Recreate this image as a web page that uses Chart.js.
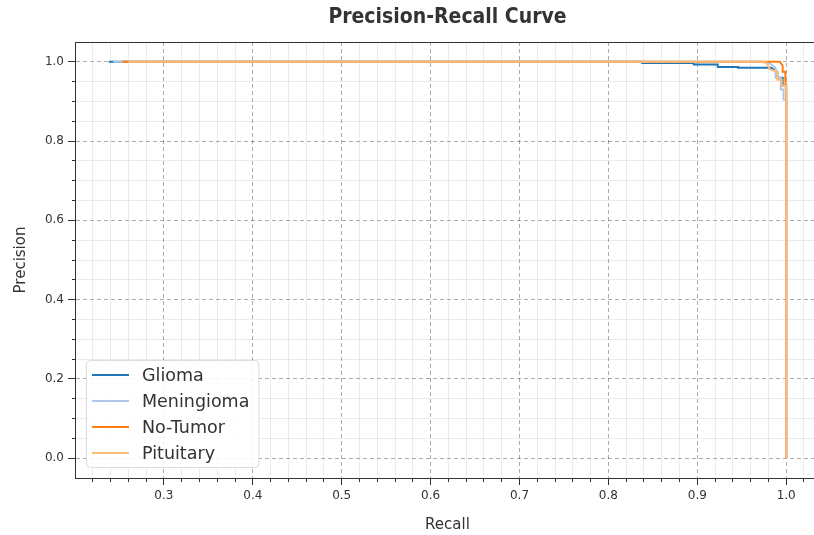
<!DOCTYPE html>
<html>
<head>
<meta charset="utf-8">
<script src="https://cdn.jsdelivr.net/npm/chart.js@4.4.1/dist/chart.umd.min.js"></script>
<style>
html,body{margin:0;padding:0;overflow:hidden;background:#fff;}
#wrap{width:821px;height:535px;}
</style>
</head>
<body>
<div id="wrap"><canvas id="c" width="821" height="535"></canvas></div>
<script>
// ---- data ----
const seriesNames = ['Glioma', 'Meningioma', 'No-Tumor', 'Pituitary'];
const seriesColors = ['#1f77b4', '#aec7e8', '#ff7f0e', '#ffbb78'];

const gliomaRecall    = [0.238, 0.838, 0.838, 0.896, 0.896, 0.923, 0.923, 0.946, 0.946, 0.983, 0.990, 0.990, 0.996, 0.996, 1.0, 1.0];
const gliomaPrecision = [1.0,   1.0,   0.997, 0.997, 0.993, 0.993, 0.987, 0.987, 0.985, 0.985, 0.975, 0.960, 0.960, 0.940, 0.940, 0.0];

const meningiomaRecall    = [0.243, 0.972, 0.982, 0.988, 0.988, 0.994, 0.994, 0.997, 0.997, 1.0, 1.0];
const meningiomaPrecision = [1.0,   1.0,   0.995, 0.985, 0.960, 0.960, 0.930, 0.930, 0.905, 0.905, 0.0];

const noTumorRecall    = [0.253, 0.993, 0.996, 0.996, 0.999, 0.999, 1.0, 1.0];
const noTumorPrecision = [1.0,   1.0,   0.990, 0.975, 0.975, 0.955, 0.920, 0.0];

const pituitaryRecall    = [0.260, 0.977, 0.982, 0.990, 0.990, 0.995, 0.995, 1.0, 1.0];
const pituitaryPrecision = [1.0,   1.0,   0.980, 0.975, 0.955, 0.955, 0.940, 0.940, 0.0];

// ---- tick labels ----
const xMajorTicks = [0.3, 0.4, 0.5, 0.6, 0.7, 0.8, 0.9, 1.0];
const yMajorTicks = [0.0, 0.2, 0.4, 0.6, 0.8, 1.0];
const xMinorTicks = [0.22, 0.24, 0.26, 0.28, 0.32, 0.34, 0.36, 0.38, 0.42, 0.44, 0.46, 0.48,
                     0.52, 0.54, 0.56, 0.58, 0.62, 0.64, 0.66, 0.68, 0.72, 0.74, 0.76, 0.78,
                     0.82, 0.84, 0.86, 0.88, 0.92, 0.94, 0.96, 0.98, 1.02];
const yMinorTicks = [0.05, 0.10, 0.15, 0.25, 0.30, 0.35, 0.45, 0.50, 0.55, 0.65, 0.70, 0.75, 0.85, 0.90, 0.95];
const xRange = [0.2, 1.038];
const yRange = [-0.05, 1.05];

const recallLists = [gliomaRecall, meningiomaRecall, noTumorRecall, pituitaryRecall];
const precisionLists = [gliomaPrecision, meningiomaPrecision, noTumorPrecision, pituitaryPrecision];

const isIn = (arr, v) => arr.some(t => Math.abs(t - v) < 1e-6);
const merged = (a, b) => a.concat(b).sort((p, q) => p - q);

const FONT = '"DejaVu Sans", sans-serif';
const TXT = '#333333';
const MAJOR_GRID = 'rgba(0,0,0,0.33)';
const MINOR_GRID = 'rgba(0,0,0,0.08)';

const datasets = seriesNames.map((name, i) => ({
  label: name,
  data: recallLists[i].map((r, k) => ({ x: r, y: precisionLists[i][k] })),
  borderColor: seriesColors[i],
  backgroundColor: seriesColors[i],
  borderWidth: 2,
  pointRadius: 0,
  showLine: true,
  fill: false,
  tension: 0,
  order: seriesNames.length - i
}));

const insetLegend = {
  id: 'insetLegend',
  afterDatasetsDraw(chart) {
    const { ctx, chartArea } = chart;
    const ds = chart.data.datasets;
    ctx.save();
    ctx.font = '17.5px ' + FONT;
    const maxW = Math.max(...ds.map(d => ctx.measureText(d.label).width));
    const rowH = 26, lineLen = 37;
    const boxW = 6 + lineLen + 13 + maxW + 9;
    const boxH = 15 + rowH * (ds.length - 1) + 14;
    const bx = chartArea.left + 11;
    const by = chartArea.bottom - 11 - boxH;
    ctx.beginPath();
    if (ctx.roundRect) ctx.roundRect(bx + 0.5, by + 0.5, boxW, boxH, 4); else ctx.rect(bx + 0.5, by + 0.5, boxW, boxH);
    ctx.fillStyle = 'rgba(255,255,255,0.88)';
    ctx.fill();
    ctx.strokeStyle = '#dcdcdc';
    ctx.lineWidth = 1;
    ctx.stroke();
    ds.forEach((d, i) => {
      const y = by + 15 + i * rowH;
      ctx.beginPath();
      ctx.strokeStyle = d.borderColor;
      ctx.lineWidth = 2;
      ctx.moveTo(bx + 6, y);
      ctx.lineTo(bx + 6 + lineLen, y);
      ctx.stroke();
      ctx.fillStyle = TXT;
      ctx.textBaseline = 'middle';
      ctx.textAlign = 'left';
      ctx.fillText(d.label, bx + 6 + lineLen + 13, y + 1);
    });
    ctx.restore();
  }
};

new Chart(document.getElementById('c'), {
  type: 'scatter',
  data: { datasets },
  plugins: [insetLegend],
  options: {
    responsive: false,
    animation: false,
    layout: { padding: { left: 0, right: 1, top: 0, bottom: 0 } },
    plugins: {
      legend: { display: false },
      tooltip: { enabled: false },
      title: {
        display: true,
        text: 'Precision-Recall Curve',
        fullSize: false,
        color: TXT,
        font: { family: '"Liberation Sans Narrow", "DejaVu Sans Condensed", "Arial Narrow", sans-serif', size: 21, weight: 'bold' },
        padding: { top: 4.5, bottom: 12.3 }
      }
    },
    scales: {
      x: {
        type: 'linear', position: 'bottom', min: xRange[0], max: xRange[1],
        afterBuildTicks: s => { s.ticks = merged(xMajorTicks, xMinorTicks).map(v => ({ value: v })); },
        afterFit: s => { s.height = 57; },
        ticks: {
          autoSkip: false, maxRotation: 0, padding: 4, color: TXT,
          font: { family: FONT, size: 12 },
          callback: v => isIn(xMajorTicks, v) ? v.toFixed(1) : ''
        },
        grid: {
          color: c => (c.tick && isIn(xMajorTicks, c.tick.value)) ? MAJOR_GRID : 'rgba(0,0,0,0)',
          lineWidth: 1, tickLength: 7,
          tickColor: TXT,
          tickBorderDash: c => (c.tick && isIn(xMajorTicks, c.tick.value)) ? [] : [3, 30]
        },
        border: { display: true, color: TXT, width: 1, dash: [4, 3] },
        title: { display: true, text: 'Recall', color: TXT, font: { family: FONT, size: 15 }, padding: { top: 0, bottom: 1 } }
      },
      xm: {
        type: 'linear', position: 'bottom', min: xRange[0], max: xRange[1],
        afterBuildTicks: s => { s.ticks = xMinorTicks.map(v => ({ value: v })); },
        afterFit: s => { s.height = 0; },
        ticks: { display: false },
        grid: { color: MINOR_GRID, lineWidth: 1, drawTicks: false, z: -2 },
        border: { display: false }
      },
      xt: {
        type: 'linear', position: 'top', min: xRange[0], max: xRange[1],
        afterBuildTicks: s => { s.ticks = []; },
        afterFit: s => { s.height = 0; },
        ticks: { display: false },
        grid: { drawOnChartArea: false, drawTicks: false },
        border: { display: true, color: TXT, width: 1 }
      },
      y: {
        type: 'linear', position: 'left', min: yRange[0], max: yRange[1],
        afterBuildTicks: s => { s.ticks = merged(yMajorTicks, yMinorTicks).map(v => ({ value: v })); },
        afterFit: s => { s.width = 75; },
        ticks: {
          autoSkip: false, padding: 4, color: TXT,
          font: { family: FONT, size: 12 },
          callback: v => isIn(yMajorTicks, v) ? v.toFixed(1) : ''
        },
        grid: {
          color: c => (c.tick && isIn(yMajorTicks, c.tick.value)) ? MAJOR_GRID : 'rgba(0,0,0,0)',
          lineWidth: 1, tickLength: 7,
          tickColor: TXT,
          tickBorderDash: c => (c.tick && isIn(yMajorTicks, c.tick.value)) ? [] : [0, 4, 3, 30]
        },
        border: { display: true, color: TXT, width: 1, dash: [4, 3] },
        title: { display: true, text: 'Precision', color: TXT, font: { family: FONT, size: 15 }, padding: { top: 12, bottom: 0 } }
      },
      ym: {
        type: 'linear', position: 'left', min: yRange[0], max: yRange[1],
        afterBuildTicks: s => { s.ticks = yMinorTicks.map(v => ({ value: v })); },
        afterFit: s => { s.width = 0; },
        ticks: { display: false },
        grid: { color: MINOR_GRID, lineWidth: 1, drawTicks: false, z: -2 },
        border: { display: false }
      }
    }
  }
});
</script>
</body>
</html>
